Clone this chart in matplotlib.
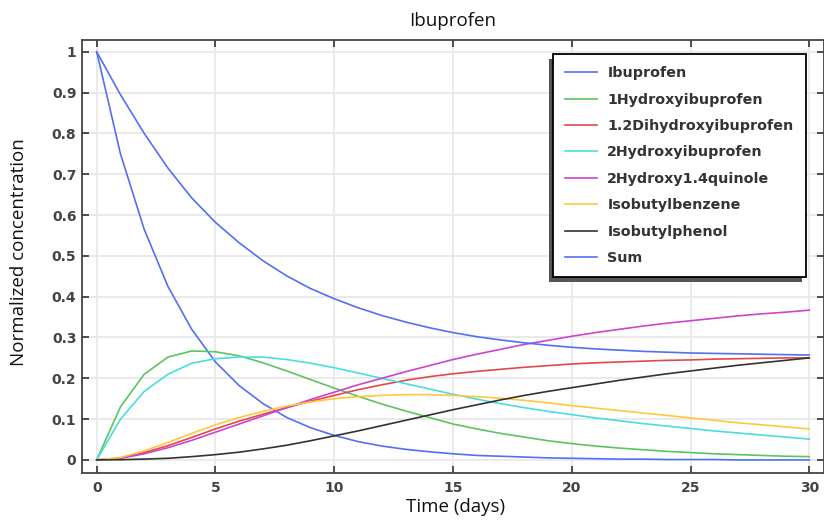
import matplotlib.pyplot as plt
import numpy as np
from matplotlib.patches import Rectangle
from matplotlib.transforms import IdentityTransform

# Time axis (days), one sample per day
t = np.arange(0, 31)

ibuprofen = [1.0, 0.75, 0.565, 0.425, 0.32, 0.24, 0.182, 0.138, 0.104, 0.079, 0.06,
             0.045, 0.034, 0.026, 0.02, 0.015, 0.011, 0.009, 0.007, 0.005, 0.004,
             0.003, 0.002, 0.002, 0.001, 0.001, 0.001, 0.0, 0.0, 0.0, 0.0]
hydroxy1 = [0.0, 0.13, 0.21, 0.252, 0.267, 0.265, 0.255, 0.238, 0.218, 0.197, 0.176,
            0.156, 0.137, 0.12, 0.104, 0.088, 0.076, 0.065, 0.056, 0.047, 0.04,
            0.034, 0.029, 0.025, 0.021, 0.018, 0.015, 0.013, 0.011, 0.009, 0.008]
dihydroxy12 = [0.0, 0.005, 0.018, 0.035, 0.055, 0.076, 0.095, 0.112, 0.128, 0.144, 0.158,
               0.172, 0.184, 0.195, 0.204, 0.211, 0.217, 0.222, 0.227, 0.231, 0.235,
               0.238, 0.24, 0.242, 0.244, 0.245, 0.247, 0.248, 0.249, 0.25, 0.25]
hydroxy2 = [0.0, 0.10, 0.168, 0.21, 0.237, 0.248, 0.252, 0.252, 0.246, 0.237, 0.226,
            0.213, 0.2, 0.187, 0.174, 0.161, 0.149, 0.138, 0.128, 0.119, 0.111,
            0.103, 0.096, 0.089, 0.083, 0.077, 0.071, 0.066, 0.061, 0.056, 0.051]
quinole = [0.0, 0.004, 0.015, 0.03, 0.048, 0.068, 0.088, 0.108, 0.128, 0.148, 0.166,
           0.184, 0.2, 0.216, 0.231, 0.246, 0.259, 0.271, 0.283, 0.293, 0.303,
           0.312, 0.32, 0.328, 0.335, 0.341, 0.347, 0.353, 0.358, 0.362, 0.367]
isobutylbenzene = [0.0, 0.006, 0.022, 0.043, 0.065, 0.086, 0.104, 0.119, 0.132, 0.142, 0.15,
                   0.155, 0.158, 0.16, 0.16, 0.158, 0.155, 0.151, 0.146, 0.14, 0.133,
                   0.127, 0.121, 0.115, 0.109, 0.103, 0.097, 0.091, 0.086, 0.081, 0.076]
isobutylphenol = [0.0, 0.0005, 0.002, 0.004, 0.008, 0.013, 0.019, 0.027, 0.036, 0.047, 0.059,
                  0.071, 0.084, 0.097, 0.11, 0.123, 0.135, 0.147, 0.158, 0.168, 0.177,
                  0.186, 0.195, 0.203, 0.211, 0.218, 0.225, 0.232, 0.238, 0.244, 0.25]
total = [1.0, 0.895, 0.8, 0.715, 0.642, 0.582, 0.532, 0.488, 0.451, 0.42, 0.395,
         0.373, 0.354, 0.338, 0.324, 0.312, 0.302, 0.294, 0.287, 0.281, 0.276,
         0.272, 0.269, 0.266, 0.264, 0.262, 0.261, 0.26, 0.259, 0.258, 0.257]

series = [
    ("Ibuprofen", ibuprofen, "#5470f2"),
    ("1Hydroxyibuprofen", hydroxy1, "#5cc460"),
    ("1.2Dihydroxyibuprofen", dihydroxy12, "#e04a4a"),
    ("2Hydroxyibuprofen", hydroxy2, "#48dede"),
    ("2Hydroxy1.4quinole", quinole, "#cc44d0"),
    ("Isobutylbenzene", isobutylbenzene, "#ffc83c"),
    ("Isobutylphenol", isobutylphenol, "#333333"),
    ("Sum", total, "#5470f2"),
]

fig = plt.figure(figsize=(8.24, 5.29), dpi=100)
ax = fig.add_axes([0.0995, 0.1059, 0.9005, 0.8185])

for name, vals, col in series:
    ax.plot(t, vals, color=col, lw=1.2, label=name)

ax.set_xlim(-0.62, 30.62)
ax.set_ylim(-0.032, 1.029)
ax.set_xticks([0, 5, 10, 15, 20, 25, 30])
ax.set_yticks(np.arange(0, 1.01, 0.1))
ax.set_yticklabels(["0", "0.1", "0.2", "0.3", "0.4", "0.5", "0.6", "0.7", "0.8", "0.9", "1"])
ax.grid(True, color="#e8e8e8", lw=1.3)
ax.set_axisbelow(True)
ax.tick_params(direction="in", length=5, width=1.2, color="#333333",
               labelcolor="#444444", labelsize=10, top=True, right=True)
ax.tick_params(axis="y", pad=4)
ax.tick_params(axis="x", pad=6)
for lab in ax.get_xticklabels() + ax.get_yticklabels():
    lab.set_fontweight("bold")
for s in ax.spines.values():
    s.set_color("#444444")
    s.set_linewidth(1.3)

ax.set_title("Ibuprofen", fontsize=13.5, color="#111111", family="Open Sans", pad=10)
ax.set_xlabel("Time (days)", fontsize=13.5, family="Open Sans", color="#111111")
ax.set_ylabel("Normalized concentration", fontsize=13.5, family="Open Sans", color="#111111")
ax.xaxis.set_label_coords(0.504, -0.058)
ax.yaxis.set_label_coords(-0.073, 0.51)

leg = ax.legend(loc="upper left", bbox_to_anchor=(553 / 824, 1 - 54 / 529),
                bbox_transform=fig.transFigure, frameon=True, framealpha=1,
                facecolor="white", fancybox=False, edgecolor="black",
                prop={"size": 10.3, "weight": "bold"}, handlelength=2.2,
                handletextpad=0.75, labelspacing=0.87, borderpad=0.85,
                borderaxespad=0)
leg.get_frame().set_linewidth(1.3)
for txt in leg.get_texts():
    txt.set_color("#333333")
for line in leg.get_lines():
    line.set_linewidth(1.2)

# shadow offset towards lower left
fig.canvas.draw()
bb = leg.get_window_extent()
shadow = Rectangle((bb.x0 - 4, bb.y0 - 5), bb.width, bb.height,
                   transform=IdentityTransform(), facecolor="#555555",
                   edgecolor="none", zorder=4.9, clip_on=False)
ax.add_artist(shadow)

fig.savefig("out.png", dpi=100)
